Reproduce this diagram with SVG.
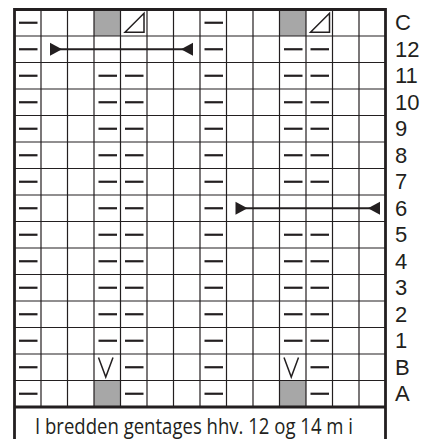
<svg xmlns="http://www.w3.org/2000/svg" xmlns:xlink="http://www.w3.org/1999/xlink" width="426" height="439" viewBox="0 0 426 439">
<style>
.g{stroke:#231f20;stroke-width:1.2;fill:none}
.b{stroke:#231f20;stroke-width:2.8;fill:none}
.d{stroke:#231f20;stroke-width:2.2;fill:none}
.s{stroke:#231f20;stroke-width:1.5;fill:none}
.gr{fill:#a7a7a7}
.lb{font-family:"Liberation Sans",Arial,sans-serif;font-size:22px;fill:#231f20}
.nt{font-family:"Open Sans","Liberation Sans",sans-serif;font-size:21px;fill:#231f20}
.ah{fill:#231f20}
</style>
<defs>
<path id="dash" class="d" d="M4.5 0H23"/>
<path id="tri" class="s" d="M4.5 22.8H23.5V3.8Z"/>
<path id="vee" class="s" d="M4.5 3.5L11.75 23L19 3.5"/>
</defs>
<rect x="0" y="0" width="426" height="439" fill="#fff"/>
<g id="grid">
<g id="shaded">
<rect class="gr" x="94" y="9.5" width="26.5" height="26.5"/>
<rect class="gr" x="279.5" y="9.5" width="26.5" height="26.5"/>
<rect class="gr" x="94" y="380.5" width="26.5" height="26.5"/>
<rect class="gr" x="279.5" y="380.5" width="26.5" height="26.5"/>
</g>
<path class="g" d="M41 9.5V407M67.5 9.5V407M94 9.5V407M120.5 9.5V407M147 9.5V407M173.5 9.5V407M200 9.5V407M226.5 9.5V407M253 9.5V407M279.5 9.5V407M306 9.5V407M332.5 9.5V407M359 9.5V407"/>
<path class="g" d="M14.5 36H385.5M14.5 62.5H385.5M14.5 89H385.5M14.5 115.5H385.5M14.5 142H385.5M14.5 168.5H385.5M14.5 195H385.5M14.5 221.5H385.5M14.5 248H385.5M14.5 274.5H385.5M14.5 301H385.5M14.5 327.5H385.5M14.5 354H385.5M14.5 380.5H385.5"/>
<path class="b" d="M14.5 445V9.5H385.5V445M14.5 407H385.5"/>
</g>
<g id="symbols">
<use xlink:href="#tri" x="120.5" y="9.5"/>
<use xlink:href="#tri" x="306" y="9.5"/>
<use xlink:href="#vee" x="94" y="354"/>
<use xlink:href="#vee" x="279.5" y="354"/>
<use xlink:href="#dash" x="14.5" y="22.75"/><use xlink:href="#dash" x="200" y="22.75"/>
<use xlink:href="#dash" x="14.5" y="49.25"/><use xlink:href="#dash" x="200" y="49.25"/><use xlink:href="#dash" x="279.5" y="49.25"/><use xlink:href="#dash" x="306" y="49.25"/>
<g id="r11"><use xlink:href="#dash" x="14.5" y="75.75"/><use xlink:href="#dash" x="94" y="75.75"/><use xlink:href="#dash" x="120.5" y="75.75"/><use xlink:href="#dash" x="200" y="75.75"/><use xlink:href="#dash" x="279.5" y="75.75"/><use xlink:href="#dash" x="306" y="75.75"/></g>
<use xlink:href="#r11" y="26.5"/>
<use xlink:href="#r11" y="53"/>
<use xlink:href="#r11" y="79.5"/>
<use xlink:href="#r11" y="106"/>
<use xlink:href="#dash" x="14.5" y="208.25"/><use xlink:href="#dash" x="94" y="208.25"/><use xlink:href="#dash" x="120.5" y="208.25"/><use xlink:href="#dash" x="200" y="208.25"/>
<use xlink:href="#r11" y="159"/>
<use xlink:href="#r11" y="185.5"/>
<use xlink:href="#r11" y="212"/>
<use xlink:href="#r11" y="238.5"/>
<use xlink:href="#r11" y="265"/>
<use xlink:href="#dash" x="14.5" y="367.25"/><use xlink:href="#dash" x="120.5" y="367.25"/><use xlink:href="#dash" x="200" y="367.25"/><use xlink:href="#dash" x="306" y="367.25"/>
<use xlink:href="#dash" x="14.5" y="393.75"/><use xlink:href="#dash" x="120.5" y="393.75"/><use xlink:href="#dash" x="200" y="393.75"/><use xlink:href="#dash" x="306" y="393.75"/>
</g>
<g id="connectors">
<path class="d" d="M52 49.25H191"/>
<path class="ah" d="M50 42.75L62 49.25L50 55.75Z"/>
<path class="ah" d="M193 42.75L181 49.25L193 55.75Z"/>
<path class="d" d="M237 208.25H378"/>
<path class="ah" d="M235.5 201.75L247.5 208.25L235.5 214.75Z"/>
<path class="ah" d="M380 201.75L368 208.25L380 214.75Z"/>
</g>
<g id="labels" class="lb">
<text x="395" y="29.5">C</text>
<text x="395" y="56.5">12</text>
<text x="395" y="83">11</text>
<text x="395" y="109.5">10</text>
<text x="395" y="136">9</text>
<text x="395" y="162.5">8</text>
<text x="395" y="189">7</text>
<text x="395" y="215.5">6</text>
<text x="395" y="242">5</text>
<text x="395" y="268.5">4</text>
<text x="395" y="295">3</text>
<text x="395" y="321.5">2</text>
<text x="395" y="348">1</text>
<text x="395" y="374.5">B</text>
<text x="395" y="401">A</text>
</g>
<g id="note">
<text class="nt" x="35" y="434" textLength="318" lengthAdjust="spacingAndGlyphs">I bredden gentages hhv. 12 og 14 m i</text>
</g>
</svg>
